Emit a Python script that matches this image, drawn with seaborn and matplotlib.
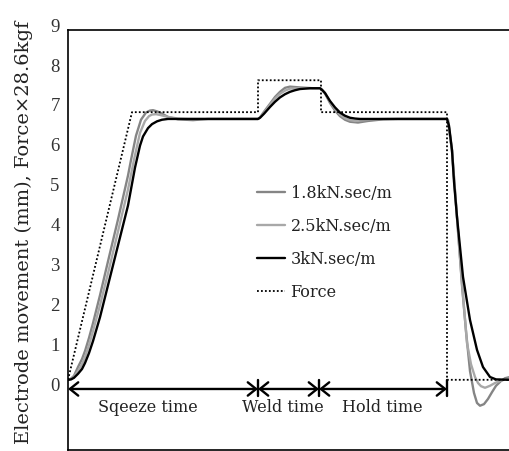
import matplotlib
matplotlib.use("Agg")
import matplotlib.pyplot as plt
import matplotlib.transforms as mtransforms
import seaborn as sns
import pandas as pd

# ---------------- data (time in arbitrary units, value in mm) ----------------
force_t = [0, 64, 190, 190, 253, 253, 379, 379, 442]
force_v = [0.23, 6.94, 6.94, 7.74, 7.74, 6.94, 6.94, 0.23, 0.23]

d30_t = [0, 3, 6, 10, 14, 17, 21, 25, 32, 40, 50, 60, 67, 72, 75, 80, 84, 89, 94, 100, 107,
         190, 192, 196, 202, 207, 212, 217, 222, 227, 232, 242, 252, 254, 257, 262, 267, 272, 277, 282, 287, 292,
         379, 381, 384, 386, 389, 395, 402, 409, 415, 422, 428, 442]
d30_v = [0.23, 0.24, 0.28, 0.38, 0.5, 0.65, 0.9, 1.2, 1.8, 2.6, 3.6, 4.6, 5.55, 6.1, 6.33, 6.54, 6.64, 6.71, 6.75, 6.77, 6.77,
         6.77, 6.8, 6.9, 7.07, 7.2, 7.31, 7.39, 7.45, 7.49, 7.52, 7.54, 7.54, 7.5, 7.42, 7.22, 7.06, 6.93, 6.85, 6.8, 6.78, 6.77,
         6.77, 6.6, 5.99, 5.2, 4.31, 2.81, 1.73, 0.98, 0.55, 0.3, 0.24, 0.23]

d25_t = [0, 3, 6, 10, 14, 17, 21, 25, 32, 40, 50, 60, 66, 72, 77, 81, 84, 88, 92, 100, 110, 120,
         190, 192, 196, 202, 207, 212, 217, 222, 232, 252, 254, 257, 262, 267, 272, 277, 282, 287, 292, 305, 320,
         379, 380, 384, 389, 394, 399, 403, 407, 410, 413, 417, 422, 427, 432, 437, 442]
d25_v = [0.23, 0.25, 0.3, 0.45, 0.62, 0.8, 1.1, 1.45, 2.1, 2.9, 3.95, 5.0, 5.75, 6.42, 6.72, 6.84, 6.88, 6.89, 6.87, 6.82, 6.78, 6.77,
         6.77, 6.8, 6.92, 7.12, 7.28, 7.4, 7.48, 7.53, 7.54, 7.54, 7.5, 7.42, 7.2, 7.02, 6.88, 6.79, 6.74, 6.72, 6.73, 6.76, 6.77,
         6.77, 6.74, 5.98, 4.3, 2.65, 1.15, 0.62, 0.3, 0.15, 0.07, 0.03, 0.08, 0.15, 0.2, 0.24, 0.26]

d18_t = [0, 3, 6, 10, 14, 17, 21, 25, 32, 40, 50, 60, 63, 68, 73, 78, 82, 85, 89, 92, 100, 110, 125, 140,
         190, 192, 196, 202, 207, 212, 217, 222, 232, 245, 252, 254, 257, 262, 267, 272, 277, 282, 290, 300, 315, 330,
         379, 380, 384, 389, 394, 398, 402, 406, 409, 412, 416, 420, 424, 428, 433, 437, 442]
d18_v = [0.23, 0.26, 0.33, 0.55, 0.75, 0.95, 1.28, 1.65, 2.35, 3.2, 4.25, 5.35, 5.74, 6.35, 6.75, 6.93, 6.98, 6.99, 6.96, 6.93, 6.82, 6.76, 6.74, 6.77,
         6.77, 6.81, 6.95, 7.15, 7.32, 7.45, 7.55, 7.58, 7.56, 7.54, 7.54, 7.5, 7.41, 7.17, 6.98, 6.84, 6.75, 6.70, 6.68, 6.72, 6.76, 6.77,
         6.77, 6.74, 5.97, 4.3, 2.6, 1.45, 0.45, -0.1, -0.35, -0.42, -0.38, -0.25, -0.08, 0.08, 0.2, 0.27, 0.3]

labels = ["1.8kN.sec/m", "2.5kN.sec/m", "3kN.sec/m", "Force"]
phase_names = ["Sqeeze time", "Weld time", "Hold time"]
phase_edges = [0, 190, 251, 379]
phase_text_t = [80, 215, 314]
y_ticks = [0, 1, 2, 3, 4, 5, 6, 7, 8, 9]

# ---------------- figure ----------------
sns.set_style("white")
plt.rcParams["font.family"] = ["DejaVu Serif", "DejaVu Sans"]

W, H = 510, 451
fig = plt.figure(figsize=(W / 100, H / 100), dpi=100)
ax = fig.add_axes([68 / W, 1 / H, 442 / W, 420 / H])

series = [
    (d18_t, d18_v, "#858585", labels[0]),
    (d25_t, d25_v, "#a8a8a8", labels[1]),
    (d30_t, d30_v, "#000000", labels[2]),
]
for t, v, c, lab in series:
    df = pd.DataFrame({"t": t, "v": v})
    sns.lineplot(data=df, x="t", y="v", ax=ax, color=c, lw=1.7, label=lab,
                 estimator=None, sort=False)

dff = pd.DataFrame({"t": force_t, "v": force_v})
sns.lineplot(data=dff, x="t", y="v", ax=ax, color="black", lw=1.3, ls=(0, (1, 1.2)),
             label=labels[3], estimator=None, sort=False)

ax.set_xlim(0, 442)
ax.set_ylim(-1.53, 9)
ax.set_xticks([])
ax.set_yticks(y_ticks)
ax.set_yticklabels([str(v) for v in y_ticks], family="Liberation Serif", fontsize=13.5, color="#333333")
ax.tick_params(axis="y", length=0, pad=6)
offset = mtransforms.ScaledTranslation(0, 3.5 / 72, fig.dpi_scale_trans)
for lbl in ax.get_yticklabels():
    lbl.set_transform(lbl.get_transform() + offset)
ax.set_xlabel("")
ax.set_ylabel("")

for side in ["left", "top", "bottom"]:
    ax.spines[side].set_color("black")
    ax.spines[side].set_linewidth(1.2)
ax.spines["right"].set_visible(False)

# phase arrows
for i, name in enumerate(phase_names):
    a, b = phase_edges[i], phase_edges[i + 1]
    ax.annotate("", xy=(b, 0), xytext=(a, 0),
                arrowprops=dict(arrowstyle="<->,head_length=0.5,head_width=0.4",
                                color="black", lw=1.7, shrinkA=0, shrinkB=0,
                                mutation_scale=12))
    ax.text(phase_text_t[i], -0.46, name, ha="center", va="center",
            fontsize=11.5, color="#222222")
for e in phase_edges[1:]:
    ax.plot([e, e], [0.22, -0.18], color="black", lw=1.7)

leg = ax.legend(loc="upper left", bbox_to_anchor=(257 / W, 1 - 185 / H),
                bbox_transform=fig.transFigure, frameon=False, fontsize=11.5,
                handlelength=1.75, handletextpad=0.35, labelspacing=1.0,
                borderpad=0, borderaxespad=0)
for txt in leg.get_texts():
    txt.set_color("#222222")

fig.text(24 / W, 1 - 232 / H, "Electrode movement (mm), Force\u00d728.6kgf",
         rotation=90, ha="center", va="center", fontsize=14, color="#222222")

fig.savefig("out.png", dpi=100)
